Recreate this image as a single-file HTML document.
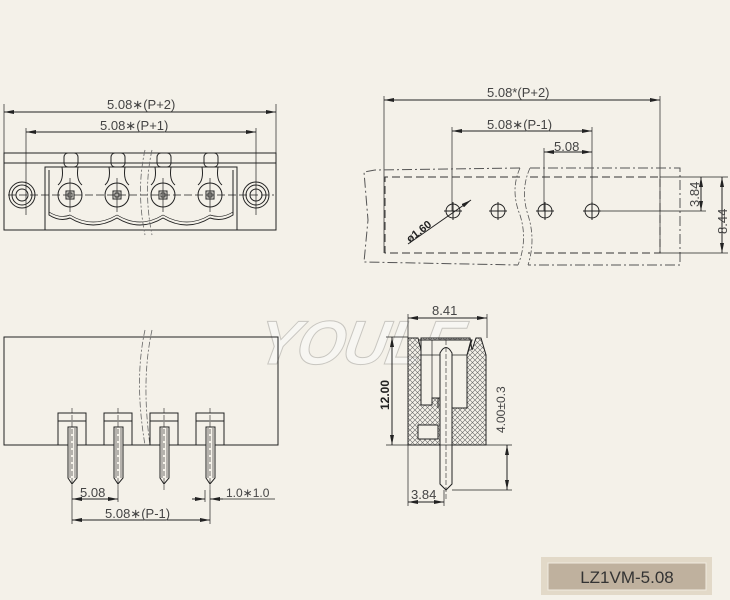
<!DOCTYPE html>
<html><head><meta charset="utf-8"><style>
html,body{margin:0;padding:0;background:#f4f1e9;}
svg{display:block;}
text{font-family:"Liberation Sans",sans-serif;}
</style></head><body>
<svg width="730" height="600" viewBox="0 0 730 600" xmlns="http://www.w3.org/2000/svg">
<defs>
<marker id="a" viewBox="0 0 10 4" refX="10" refY="2" markerWidth="10" markerHeight="4" orient="auto-start-reverse" markerUnits="userSpaceOnUse"><path d="M0,0 L10,2 L0,4z" fill="#222"/></marker>
<pattern id="h" width="5" height="5" patternUnits="userSpaceOnUse"><path d="M0,0 L5,5 M5,0 L0,5" stroke="#666" stroke-width="0.6"/></pattern>
</defs>
<rect width="730" height="600" fill="#f4f1e9"/>

<text x="255" y="364" font-size="62" font-style="italic" font-weight="bold" fill="#f7f6f2" stroke="#c8c6c0" stroke-width="1" letter-spacing="-2" transform="skewX(-10) translate(64,0)">YOULE</text>

<g stroke="#222" stroke-width="1" fill="none">
<!-- TOP LEFT -->
<line x1="4" y1="112" x2="276" y2="112" marker-start="url(#a)" marker-end="url(#a)"/>
<line x1="26" y1="132" x2="256" y2="132" marker-start="url(#a)" marker-end="url(#a)"/>
<line x1="4" y1="104" x2="4" y2="153" stroke-width="0.7"/>
<line x1="276" y1="104" x2="276" y2="153" stroke-width="0.7"/>
<line x1="26" y1="128" x2="26" y2="215" stroke-width="0.7"/>
<line x1="256" y1="128" x2="256" y2="215" stroke-width="0.7"/>
<rect x="4" y="153" width="272" height="77"/>
<line x1="4" y1="163" x2="276" y2="163"/>
<path d="M45,230 V167 H237 V230"/>
<path d="M49,170 V215 Q60,222 70,218 Q93,232 117,218 Q140,232 163,218 Q187,232 210,218 Q222,222 233,215 V170"/>
<path d="M49,212 Q60,219 70,215 Q93,229 117,215 Q140,229 163,215 Q187,229 210,215 Q222,219 233,212" stroke-width="0.7"/>
<g id="sc">
<rect x="64" y="153" width="14" height="14" rx="4"/>
<path d="M62,167 Q64,180 58,185 M78,167 Q76,180 82,185"/>
<circle cx="70" cy="195" r="12"/>
<rect x="66" y="191" width="8" height="8"/>
<rect x="68" y="193" width="4" height="4"/>
<line x1="70" y1="178" x2="70" y2="212" stroke-width="0.7"/>
</g>
<use href="#sc" x="47"/><use href="#sc" x="93"/><use href="#sc" x="140"/>
<line x1="8" y1="195" x2="274" y2="195" stroke-dasharray="8,3" stroke-width="0.8"/>
<circle cx="22" cy="195" r="13"/><circle cx="22" cy="195" r="10"/><circle cx="22" cy="195" r="6"/>
<circle cx="256" cy="195" r="13"/><circle cx="256" cy="195" r="10"/><circle cx="256" cy="195" r="6"/>
<path d="M145,150 Q136,190 145,235 M152,150 Q143,190 152,235" stroke="#666" stroke-dasharray="6,2,2,2" stroke-width="0.8"/>

<!-- TOP RIGHT -->
<line x1="384" y1="100" x2="660" y2="100" marker-start="url(#a)" marker-end="url(#a)"/>
<line x1="452" y1="131" x2="592" y2="131" marker-start="url(#a)" marker-end="url(#a)"/>
<line x1="544" y1="152" x2="592" y2="152" marker-start="url(#a)" marker-end="url(#a)"/>
<line x1="384" y1="96" x2="384" y2="253" stroke-width="0.7"/>
<line x1="660" y1="96" x2="660" y2="253" stroke-width="0.7"/>
<line x1="452" y1="127" x2="452" y2="211" stroke-width="0.7"/>
<line x1="592" y1="127" x2="592" y2="211" stroke-width="0.7"/>
<line x1="544" y1="148" x2="544" y2="211" stroke-width="0.7"/>
<path d="M520,177 H385 V253 H518 M530,177 H660 V253 H528" stroke-dasharray="8,4" stroke="#333"/>
<path d="M520,168 L375,170 L364,172 L368,220 L364,262 L518,265" stroke-dasharray="10,3,2,3" stroke="#555"/>
<path d="M530,168 H680 V265 H528" stroke-dasharray="10,3,2,3" stroke="#555"/>
<path d="M520,168 Q510,190 520,215 Q528,240 518,265 M530,168 Q520,190 528,215 Q536,240 528,265" stroke="#555" stroke-dasharray="6,2,2,2" stroke-width="0.8"/>
<g id="ho"><circle cx="453" cy="211" r="7"/><line x1="444" y1="211" x2="462" y2="211"/><line x1="453" y1="202" x2="453" y2="220"/></g>
<use href="#ho" x="45"/><use href="#ho" x="92"/><use href="#ho" x="139"/>
<line x1="600" y1="211" x2="706" y2="211" stroke-width="0.7"/>
<line x1="660" y1="177" x2="728" y2="177" stroke-width="0.7"/>
<line x1="660" y1="253" x2="728" y2="253" stroke-width="0.7"/>
<line x1="701" y1="177" x2="701" y2="211" marker-start="url(#a)" marker-end="url(#a)"/>
<line x1="722" y1="177" x2="722" y2="253" marker-start="url(#a)" marker-end="url(#a)"/>
<line x1="408" y1="244" x2="471" y2="200" marker-end="url(#a)"/>

<!-- BOTTOM LEFT -->
<rect x="4" y="337" width="274" height="108"/>
<path d="M145,330 Q134,380 145,445 M152,330 Q141,380 150,445" stroke="#666" stroke-dasharray="6,2,2,2" stroke-width="0.8"/>
<g id="pn">
<rect x="58" y="413" width="28" height="32"/>
<line x1="58" y1="421" x2="86" y2="421"/>
<path d="M68,427 H77 V478 L72,484 L68,478 Z" fill="#f4f1e9"/>
<line x1="70" y1="428" x2="70" y2="478" stroke-width="0.6"/>
<line x1="75" y1="428" x2="75" y2="478" stroke-width="0.6"/>
<line x1="72" y1="408" x2="72" y2="490" stroke-dasharray="5,2" stroke-width="0.6"/>
</g>
<use href="#pn" x="46"/><use href="#pn" x="92"/><use href="#pn" x="138"/>
<line x1="72" y1="490" x2="72" y2="524" stroke-width="0.7"/>
<line x1="118" y1="490" x2="118" y2="502" stroke-width="0.7"/>
<line x1="210" y1="490" x2="210" y2="524" stroke-width="0.7"/>
<line x1="205" y1="490" x2="205" y2="502" stroke-width="0.7"/>
<line x1="72" y1="499" x2="118" y2="499" marker-start="url(#a)" marker-end="url(#a)"/>
<line x1="72" y1="520" x2="210" y2="520" marker-start="url(#a)" marker-end="url(#a)"/>
<line x1="192" y1="499" x2="205" y2="499" marker-end="url(#a)"/>
<line x1="223" y1="499" x2="210" y2="499" marker-end="url(#a)"/>
<line x1="223" y1="499" x2="275" y2="499" stroke-width="0.7"/>

<!-- SIDE VIEW -->
<line x1="408" y1="318" x2="487" y2="318" marker-start="url(#a)" marker-end="url(#a)"/>
<line x1="408" y1="314" x2="408" y2="338" stroke-width="0.7"/>
<line x1="487" y1="314" x2="487" y2="338" stroke-width="0.7"/>
<path d="M408,338 H418 L421,350 V338 H470 L472,350 L476,338 H481 L486,355 V445 H408 Z" fill="url(#h)"/>
<path d="M421,338 V405 H432 V398 H438 V408 M452,408 V398 H467 V355 L472,340 H418" fill="none"/>
<path d="M421,340 V405 H432 V398 H452 V408 H467 V355 L471,340 Z" fill="#f4f1e9"/>
<line x1="421" y1="355" x2="467" y2="355" stroke-width="0.7"/>
<line x1="432" y1="340" x2="432" y2="398" stroke-width="0.7"/>
<rect x="418" y="425" width="20" height="14" fill="#f4f1e9"/>
<path d="M440,353 Q446,342 452,353 V484 L446,490 L440,484 Z" fill="#f4f1e9"/>
<line x1="446" y1="340" x2="446" y2="500" stroke-dasharray="5,2" stroke-width="0.6"/>
<line x1="386" y1="337" x2="408" y2="337" stroke-width="0.7"/>
<line x1="386" y1="445" x2="512" y2="445" stroke-width="0.7"/>
<line x1="452" y1="490" x2="512" y2="490" stroke-width="0.7"/>
<line x1="392" y1="337" x2="392" y2="445" marker-start="url(#a)" marker-end="url(#a)"/>
<line x1="507" y1="445" x2="507" y2="490" marker-start="url(#a)" marker-end="url(#a)"/>
<line x1="408" y1="445" x2="408" y2="506" stroke-width="0.7"/>
<line x1="444" y1="490" x2="444" y2="506" stroke-width="0.7"/>
<line x1="408" y1="502" x2="444" y2="502" marker-start="url(#a)" marker-end="url(#a)"/>
</g>

<g fill="#444" font-size="13">
<text x="107" y="109">5.08∗(P+2)</text>
<text x="100" y="130">5.08∗(P+1)</text>
<text x="487" y="97">5.08*(P+2)</text>
<text x="487" y="129">5.08∗(P-1)</text>
<text x="554" y="151">5.08</text>
<text x="0" y="0" transform="translate(699,207) rotate(-90)">3.84</text>
<text x="0" y="0" transform="translate(727,234) rotate(-90)">8.44</text>
<text x="0" y="0" font-size="11" font-weight="bold" fill="#222" transform="translate(410,243) rotate(-38)">ø1.60</text>
<text x="80" y="497">5.08</text>
<text x="105" y="518">5.08∗(P-1)</text>
<text x="226" y="497" font-size="12">1.0∗1.0</text>
<text x="432" y="315">8.41</text>
<text x="0" y="0" font-size="12" font-weight="bold" fill="#222" transform="translate(389,410) rotate(-90)">12.00</text>
<text x="0" y="0" font-size="12" transform="translate(505,433) rotate(-90)">4.00±0.3</text>
<text x="411" y="499">3.84</text>
</g>

<rect x="541" y="557" width="171" height="38" fill="#e2d9c8"/>
<rect x="548" y="563" width="158" height="27" fill="#bfb19e" stroke="#f0ebe0" stroke-width="1"/>
<text x="627" y="583" text-anchor="middle" font-size="17" fill="#333">LZ1VM-5.08</text>
</svg>
</body></html>
